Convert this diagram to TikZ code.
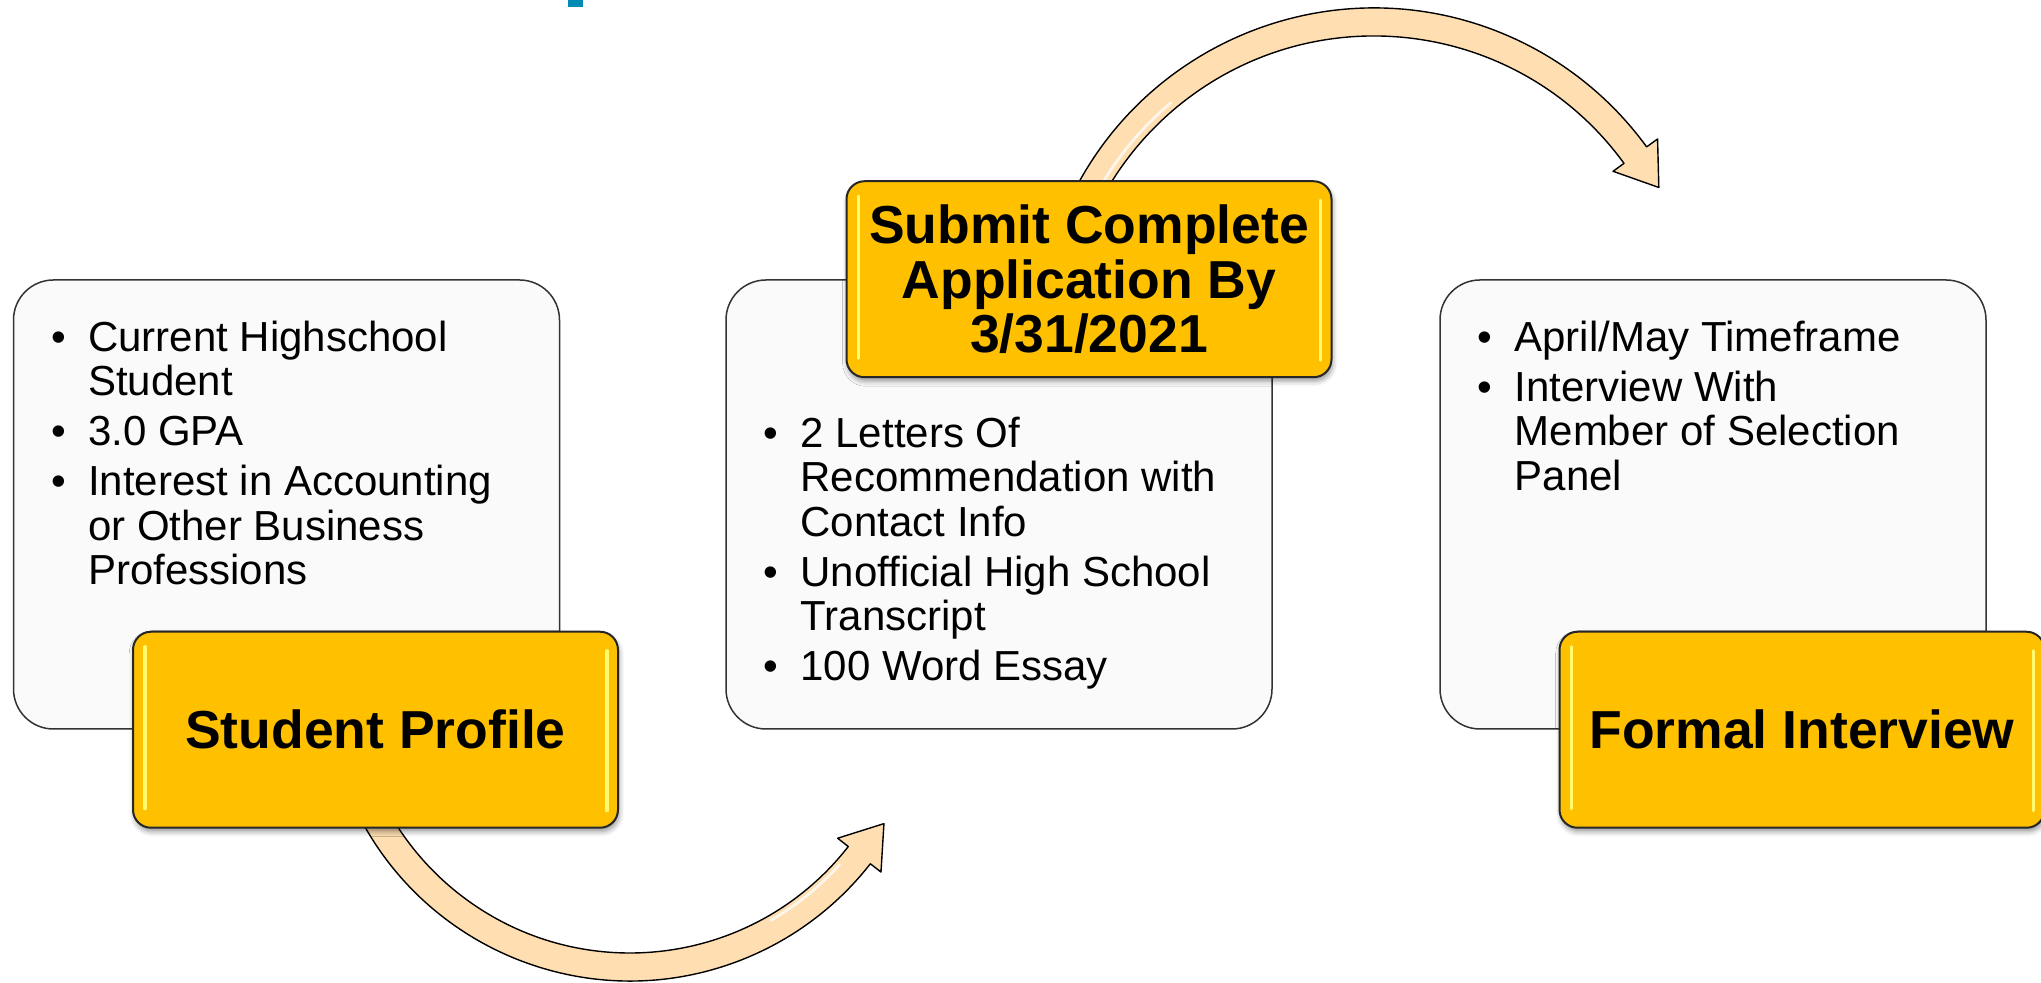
\documentclass[tikz,border=0pt]{standalone}
\usepackage{fontspec}
\setmainfont{Liberation Sans}
\usepackage{xcolor}
\usetikzlibrary{calc,positioning,shadows.blur}
\definecolor{boxgold}{RGB}{255,192,0}
\definecolor{arrowpeach}{RGB}{255,223,178}
\definecolor{titleblue}{RGB}{0,139,178}
\definecolor{glint}{RGB}{255,250,110}
\newcommand{\stepgap}{\\[2.75pt]}

\begin{document}
\begin{tikzpicture}[
    x=0.5pt, y=0.5pt,
    panel/.style={rectangle, draw=black!80, line width=0.75pt, rounded corners=20pt, fill=black!2,
        minimum width=273pt, minimum height=224.5pt, inner sep=0},
    badge/.style={rectangle, draw=black!85, line width=1pt, rounded corners=9pt, fill=boxgold,
        minimum width=242.5pt, minimum height=98pt, align=center, inner sep=0,
        font=\fontsize{26.75pt}{27.25pt}\selectfont\bfseries,
        blur shadow={shadow xshift=0.6pt, shadow yshift=-2pt, shadow opacity=40, shadow blur radius=2.5pt}},
    bullets/.style={anchor=base west, inner sep=0, font=\fontsize{21pt}{22.25pt}\selectfont},
    curved/.style={draw=black, line width=0.7pt, fill=arrowpeach, line join=round},
    sheen/.style={draw=glint, line width=1.6pt, line cap=round},
    shine/.style={draw=white, opacity=.75, line width=1.4pt, line cap=round}]

\useasboundingbox (0,0) rectangle (2041,983);

\fill[titleblue] (568,976) rectangle (583,983);

\node[panel] (profpanel) at (286.5,478.5) {};
\node[panel] (docspanel) at (999,478.5) {};
\node[panel] (talkpanel) at (1713,478.5) {};

\node[bullets] (proflist) at ([xshift=19pt, yshift=-36pt]profpanel.north west) {%
  \begin{tabular}[t]{@{}p{18.5pt}@{}l@{}}
  \textbullet & Current Highschool\\
              & Student\stepgap
  \textbullet & 3.0 GPA\stepgap
  \textbullet & Interest in Accounting\\
              & or Other Business\\
              & Professions
  \end{tabular}};
\node[bullets] (docslist) at ([xshift=19pt, yshift=-84pt]docspanel.north west) {%
  \begin{tabular}[t]{@{}p{18.5pt}@{}l@{}}
  \textbullet & 2 Letters Of\\
              & Recommendation with\\
              & Contact Info\stepgap
  \textbullet & Unofficial High School\\
              & Transcript\stepgap
  \textbullet & 100 Word Essay
  \end{tabular}};
\node[bullets] (talklist) at ([xshift=19pt, yshift=-36pt]talkpanel.north west) {%
  \begin{tabular}[t]{@{}p{18.5pt}@{}l@{}}
  \textbullet & April/May Timeframe\stepgap
  \textbullet & Interview With\\
              & Member of Selection\\
              & Panel
  \end{tabular}};

\path[curved] (349.25,187.83) arc[start angle=203, end angle=322, radius=305]
    -- (880.98,110.91) -- (883.94,159.36) -- (837.64,144.77) -- (848.28,136.46)
    arc[start angle=322, end angle=203, radius=277] -- cycle;
\path[shine] (771,62.8) arc[start angle=300, end angle=318, radius=282];

\path[curved] (1066.14,775.07) arc[start angle=156, end angle=36, radius=337]
    -- (1657.56,844.02) -- (1658.82,795.5) -- (1613.07,811.69) -- (1623.99,819.63)
    arc[start angle=36, end angle=156, radius=309] -- cycle;
\path[shine] (1100.3,796) arc[start angle=150, end angle=130, radius=316];

\node[badge] (profbadge) at ([xshift=44.5pt]profpanel.south) {Student Profile};
\node[badge] (docsbadge) at ([xshift=45pt]docspanel.north) {Submit Complete\\Application By\\3/31/2021};
\node[badge] (talkbadge) at ([xshift=44.5pt]talkpanel.south) {Formal Interview};

\path[sheen] ([xshift=6.5pt, yshift=-8pt]profbadge.north west) -- ([xshift=6.5pt, yshift=10pt]profbadge.south west);
\path[sheen] ([xshift=-6pt, yshift=-10pt]profbadge.north east) -- ([xshift=-6pt, yshift=9pt]profbadge.south east);
\path[sheen] ([xshift=6.5pt, yshift=-8pt]docsbadge.north west) -- ([xshift=6.5pt, yshift=10pt]docsbadge.south west);
\path[sheen] ([xshift=-6pt, yshift=-10pt]docsbadge.north east) -- ([xshift=-6pt, yshift=9pt]docsbadge.south east);
\path[sheen] ([xshift=6.5pt, yshift=-8pt]talkbadge.north west) -- ([xshift=6.5pt, yshift=10pt]talkbadge.south west);
\path[sheen] ([xshift=-6pt, yshift=-10pt]talkbadge.north east) -- ([xshift=-6pt, yshift=9pt]talkbadge.south east);

\end{tikzpicture}
\end{document}
